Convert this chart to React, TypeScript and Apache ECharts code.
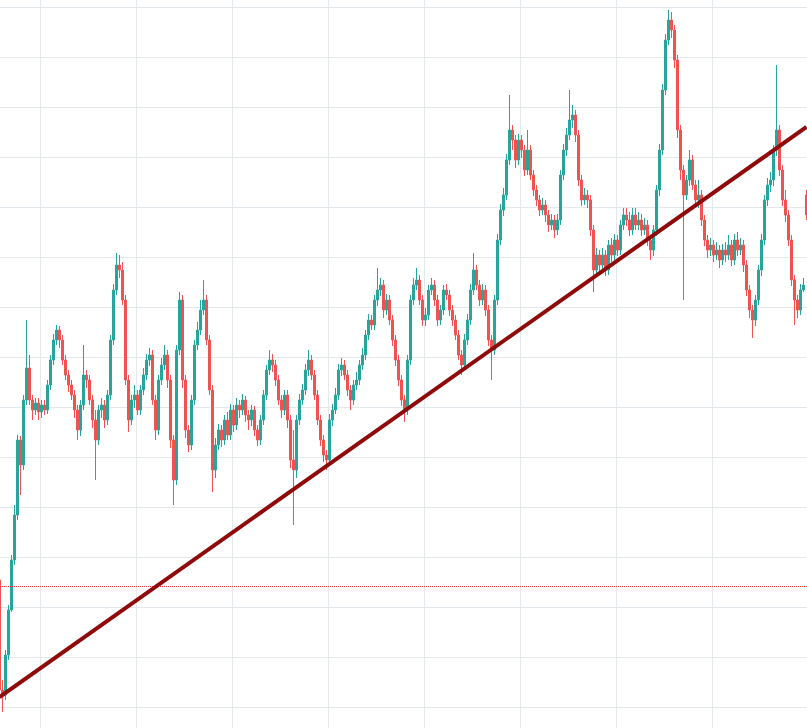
import React, { useEffect, useRef } from "react";
import * as echarts from "echarts";

// Candles: [open, close, low, high] (price units)
const ohlc: number[][] = [
  [127, 17, 7, 132], [17, 12, -5, 27], [12, 52, 7, 57], [52, 97, 47, 102], [97, 147, 95, 152],
  [147, 192, 142, 202], [192, 267, 187, 272], [267, 242, 212, 271], [242, 307, 237, 312], [307, 339, 302, 387],
  [339, 307, 302, 352], [307, 297, 287, 312], [297, 304, 292, 309], [304, 295, 287, 309], [295, 302, 289, 307],
  [302, 297, 292, 307], [297, 322, 293, 327], [322, 347, 317, 352], [347, 367, 342, 373], [367, 377, 362, 382],
  [377, 367, 359, 381], [367, 347, 342, 372], [347, 332, 327, 352], [332, 322, 315, 337], [322, 312, 307, 327],
  [312, 297, 289, 317], [297, 277, 267, 302], [277, 302, 271, 307], [302, 332, 297, 362], [332, 327, 319, 337],
  [327, 307, 302, 332], [307, 287, 279, 312], [287, 267, 227, 297], [267, 297, 262, 302], [297, 302, 289, 309],
  [302, 287, 279, 307], [287, 312, 282, 317], [312, 367, 307, 372], [367, 417, 362, 423], [417, 442, 412, 454],
  [442, 437, 429, 452], [437, 407, 402, 445], [407, 327, 322, 412], [327, 287, 275, 332], [287, 307, 282, 312],
  [307, 312, 299, 322], [312, 297, 292, 317], [297, 317, 292, 322], [317, 332, 312, 339], [332, 347, 327, 353],
  [347, 352, 341, 359], [352, 307, 302, 357], [307, 277, 267, 312], [277, 327, 272, 332], [327, 342, 322, 349],
  [342, 352, 337, 362], [352, 327, 319, 357], [327, 267, 259, 332], [267, 227, 202, 272], [227, 357, 222, 362],
  [357, 407, 352, 415], [407, 327, 319, 412], [327, 277, 269, 332], [277, 262, 255, 282], [262, 307, 257, 312],
  [307, 362, 302, 367], [362, 377, 357, 385], [377, 397, 372, 407], [397, 407, 392, 427], [407, 367, 362, 412],
  [367, 317, 312, 372], [317, 237, 215, 322], [237, 262, 229, 269], [262, 277, 257, 283], [277, 267, 260, 282],
  [267, 287, 262, 292], [287, 272, 267, 295], [272, 297, 267, 303], [297, 282, 275, 302], [282, 302, 277, 309],
  [302, 297, 289, 307], [297, 307, 292, 313], [307, 292, 285, 311], [292, 287, 277, 297], [287, 297, 281, 302],
  [297, 277, 271, 301], [277, 267, 261, 282], [267, 287, 262, 292], [287, 312, 282, 317], [312, 337, 307, 342],
  [337, 347, 332, 357], [347, 342, 335, 353], [342, 327, 321, 347], [327, 307, 302, 332], [307, 297, 289, 312],
  [297, 312, 292, 317], [312, 287, 279, 317], [287, 247, 239, 292], [247, 237, 182, 277], [237, 287, 229, 292],
  [287, 307, 282, 313], [307, 317, 302, 323], [317, 337, 312, 343], [337, 347, 331, 357], [347, 332, 327, 352],
  [332, 312, 307, 337], [312, 287, 282, 317], [287, 267, 261, 292], [267, 252, 245, 272], [252, 247, 237, 257],
  [247, 287, 242, 293], [287, 297, 281, 303], [297, 312, 293, 319], [312, 337, 307, 343], [337, 342, 331, 349],
  [342, 332, 327, 347], [332, 317, 311, 337], [317, 307, 297, 322], [307, 322, 302, 327], [322, 327, 317, 335],
  [327, 342, 322, 347], [342, 352, 337, 359], [352, 372, 347, 377], [372, 387, 367, 393], [387, 382, 377, 392],
  [382, 407, 377, 412], [407, 417, 401, 439], [417, 422, 411, 429], [422, 397, 389, 427], [397, 407, 392, 413],
  [407, 387, 382, 412], [387, 367, 361, 392], [367, 347, 341, 372], [347, 327, 321, 352], [327, 307, 301, 332],
  [307, 297, 285, 312], [297, 347, 292, 352], [347, 407, 342, 412], [407, 422, 402, 429], [422, 427, 417, 439],
  [427, 407, 402, 432], [407, 387, 381, 412], [387, 392, 381, 399], [392, 417, 387, 422], [417, 422, 412, 429],
  [422, 407, 401, 427], [407, 387, 381, 412], [387, 397, 382, 402], [397, 417, 392, 422], [417, 412, 407, 423],
  [412, 397, 391, 417], [397, 387, 381, 402], [387, 372, 367, 392], [372, 352, 347, 377], [352, 342, 332, 357],
  [342, 367, 337, 373], [367, 387, 362, 393], [387, 417, 382, 423], [417, 437, 412, 454], [437, 422, 417, 442],
  [422, 407, 401, 427], [407, 417, 402, 423], [417, 397, 391, 422], [397, 367, 361, 402], [367, 357, 327, 372],
  [357, 407, 352, 412], [407, 467, 402, 473], [467, 497, 462, 503], [497, 512, 491, 519], [512, 547, 507, 553],
  [547, 577, 542, 612], [577, 567, 557, 582], [567, 547, 539, 572], [547, 567, 542, 573], [567, 557, 549, 572],
  [557, 537, 531, 562], [537, 557, 532, 577], [557, 532, 527, 562], [532, 517, 511, 537], [517, 507, 501, 522],
  [507, 497, 491, 512], [497, 502, 492, 509], [502, 492, 485, 507], [492, 482, 475, 497], [482, 487, 477, 493],
  [487, 477, 469, 492], [477, 487, 472, 493], [487, 532, 482, 537], [532, 557, 527, 563], [557, 572, 551, 579],
  [572, 587, 567, 617], [587, 592, 579, 602], [592, 572, 565, 597], [572, 527, 521, 577], [527, 507, 501, 532],
  [507, 512, 502, 519], [512, 507, 499, 517], [507, 477, 471, 512], [477, 437, 415, 482], [437, 452, 431, 459],
  [452, 442, 435, 457], [442, 452, 437, 459], [452, 437, 431, 457], [437, 462, 432, 467], [462, 452, 445, 469],
  [452, 467, 447, 473], [467, 457, 451, 472], [457, 482, 452, 487], [482, 492, 477, 499], [492, 487, 481, 499],
  [487, 477, 471, 495], [477, 492, 472, 499], [492, 482, 477, 499], [482, 487, 477, 495], [487, 477, 471, 493],
  [477, 482, 472, 489], [482, 467, 461, 487], [467, 457, 447, 472], [457, 477, 451, 482], [477, 517, 471, 522],
  [517, 557, 511, 563], [557, 617, 552, 623], [617, 667, 612, 673], [667, 687, 662, 697], [687, 677, 669, 695],
  [677, 647, 639, 682], [647, 577, 569, 652], [577, 537, 527, 582], [537, 512, 407, 542], [512, 527, 507, 532],
  [527, 547, 521, 557], [547, 522, 517, 552], [522, 507, 501, 527], [507, 512, 499, 527], [512, 487, 481, 517],
  [487, 467, 461, 492], [467, 457, 449, 472], [457, 462, 451, 469], [462, 452, 445, 467], [452, 457, 447, 465],
  [457, 447, 439, 462], [447, 457, 442, 463], [457, 452, 445, 465], [452, 462, 447, 472], [462, 447, 441, 467],
  [447, 467, 442, 473], [467, 457, 451, 475], [457, 462, 452, 469], [462, 442, 435, 467], [442, 417, 411, 447],
  [417, 397, 389, 422], [397, 387, 369, 402], [387, 407, 381, 412], [407, 437, 402, 442], [437, 467, 431, 473],
  [467, 507, 462, 512], [507, 522, 501, 529], [522, 527, 515, 535], [527, 557, 521, 562], [557, 577, 551, 642],
  [577, 537, 531, 582], [537, 507, 501, 542], [507, 492, 485, 517], [492, 467, 461, 497], [467, 427, 421, 472],
  [427, 407, 382, 432], [407, 397, 389, 412], [397, 417, 392, 423], [417, 422, 415, 429], [512, 492, 487, 517],
];

const categories: string[] = ohlc.map((_, i) => String(i + 1));

// Trend line endpoints: [category index, price]
const trendLine: number[][] = [[0, 10], [269, 580]];
// Horizontal dotted level
const supportLevel = 121;

const UP = "#26a69a";
const DOWN = "#ef5350";

export default function App() {
  const ref = useRef<HTMLDivElement>(null);

  useEffect(() => {
    document.body.style.margin = "0";
    if (!ref.current) return;
    const chart = echarts.init(ref.current, undefined, { renderer: "svg" });
    chart.setOption({
      animation: false,
      backgroundColor: "#ffffff",
      grid: { left: 0, right: 0, top: 0, bottom: 0, containLabel: false },
      xAxis: {
        type: "category",
        data: categories,
        boundaryGap: true,
        axisLine: { show: false },
        axisTick: { show: false },
        axisLabel: { show: false },
        splitLine: {
          show: true,
          interval: (index: number) => index % 32 === 14,
          lineStyle: { color: "#e3e8ed", width: 1 },
        },
      },
      yAxis: {
        type: "value",
        min: -50,
        max: 750,
        interval: 50,
        axisLine: { show: false },
        axisTick: { show: false },
        axisLabel: { show: false },
        splitLine: { show: true, lineStyle: { color: "#e3e8ed", width: 1 } },
      },
      series: [
        {
          type: "candlestick",
          data: ohlc,
          barWidth: "85%",
          itemStyle: {
            color: UP,
            color0: DOWN,
            borderColor: UP,
            borderColor0: DOWN,
            borderWidth: 1,
          },
          markLine: {
            silent: true,
            symbol: ["none", "none"],
            label: { show: false },
            emphasis: { disabled: true },
            data: [
              {
                yAxis: supportLevel,
                lineStyle: { color: "#e53935", type: "dotted", width: 1 },
              },
              [
                {
                  coord: [categories[trendLine[0][0]], trendLine[0][1]],
                  lineStyle: { color: "#8f0a0a", type: "solid", width: 4 },
                },
                { coord: [categories[trendLine[1][0]], trendLine[1][1]] },
              ],
            ],
          },
        },
      ],
    });
    return () => chart.dispose();
  }, []);

  return (
    <div style={{ width: 807, height: 728, overflow: "hidden", position: "relative", background: "#fff" }}>
      <div
        ref={ref}
        style={{ position: "absolute", left: -2, top: -43, width: 810, height: 800 }}
      />
    </div>
  );
}
